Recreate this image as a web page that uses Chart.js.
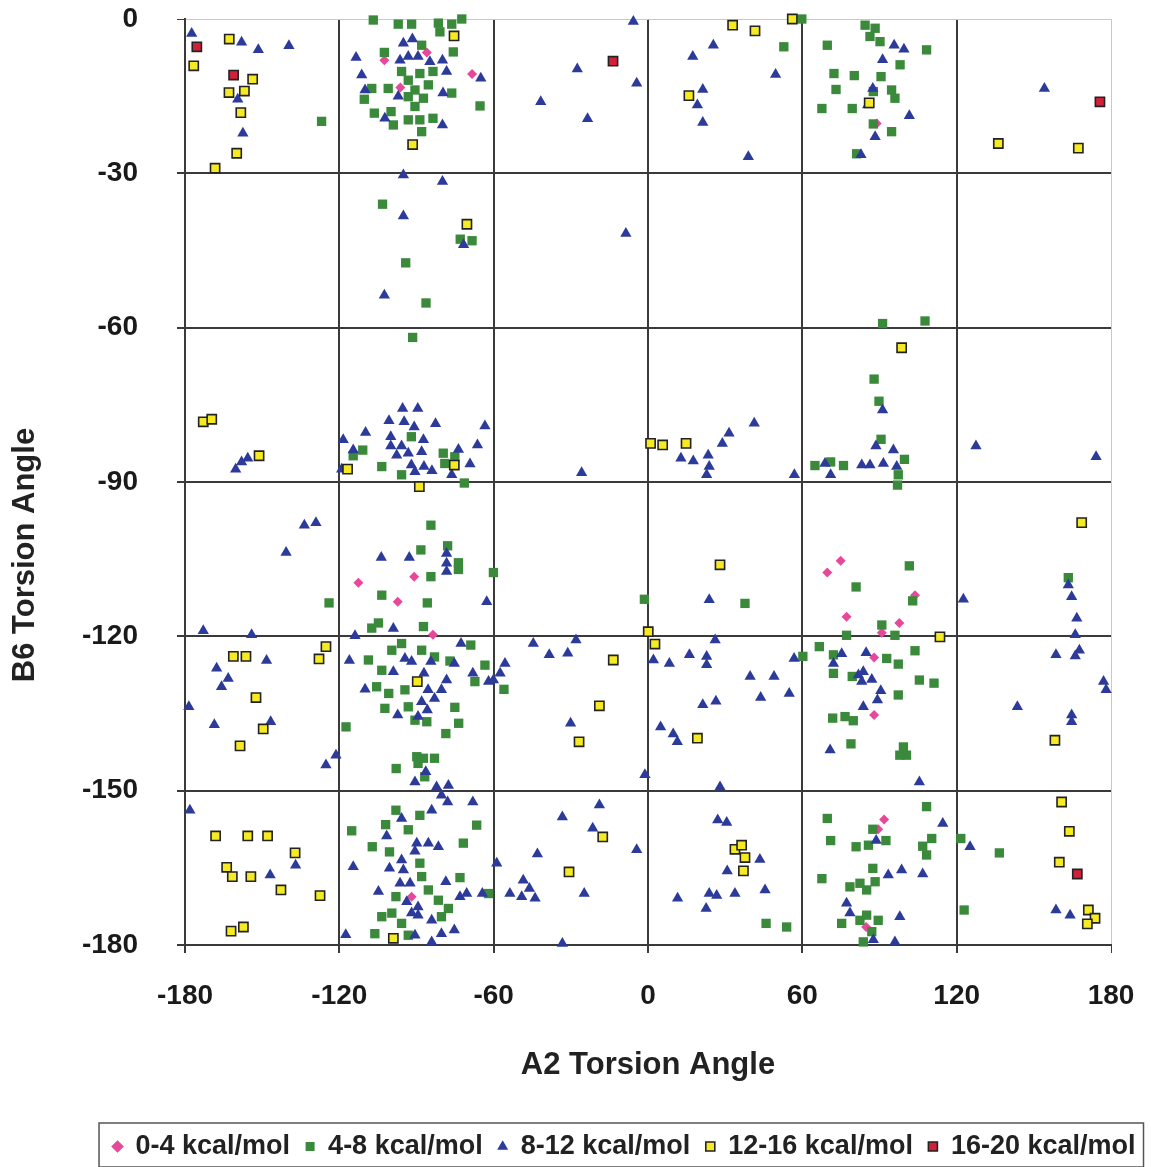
<!DOCTYPE html>
<html>
<head>
<meta charset="utf-8">
<script src="https://cdn.jsdelivr.net/npm/chart.js@4.4.1/dist/chart.umd.min.js"></script>
<style>
  html, body { margin: 0; padding: 0; background: #fff; }
  #wrap { width: 1151px; height: 1167px; }
</style>
</head>
<body>
<div id="wrap"><canvas id="chart"></canvas></div>
<script>
// [A2, B6] torsion angle pairs per energy band
const kcal0to4 = [
  [-68.4,-10.7],[-102.5,-8.0],[-86,-6.5],[-96.3,-13.3],[88.9,-20.3],
  [-112.6,-109.6],[-90.9,-108.4],[-97.3,-113.3],[-83.6,-119.7],[-91.9,-170.6],
  [74.9,-105.3],[69.7,-107.6],[103.8,-112.0],[77.2,-116.2],[97.7,-117.4],[90.9,-119.3],
  [87.9,-124.1],[87.9,-135.3],[91.8,-155.6],[89.5,-157.5],[84.8,-176.5]
];

const kcal4to8 = [
  [-126.9,-19.9],[-106.8,-0.2],[-97.1,-1.0],[-91.9,-1.0],[-81.5,-0.8],[-76.3,-1.0],[-72.4,0],
  [-80.9,-2.5],[-75.7,-6.4],[-102.5,-6.5],[-88,-5.1],[-88.7,-10.6],[-83.6,-10.2],[-93.2,-11.9],
  [-90.6,-13.8],[-85.4,-12.8],[-76.3,-14.4],[-93.2,-15.1],[-87.3,-15.4],[-90.6,-17.0],[-101,-13.5],
  [-107.4,-13.5],[-110.3,-15.6],[-106.4,-18.3],[-99.9,-18.0],[-99,-20.6],[-93.2,-19.6],[-88.7,-19.6],
  [-83.6,-19.3],[-88,-21.9],[-65.3,-16.9],[-95.8,-10.2],[-103.2,-36.0],[-73,-42.8],[-68.4,-43.1],
  [-94.2,-47.4],[-86.3,-55.2],
  [59.8,0],[52.8,-5.4],
  [84.4,-1.2],[88.3,-1.8],[86.3,-3.4],[90.2,-4.4],[69.7,-5.1],[108.3,-6.0],[98,-8.9],[72.3,-10.6],
  [80.2,-11.0],[90.6,-11.2],[73.1,-13.7],[94.7,-13.8],[96,-15.4],[87.6,-14.1],[67.6,-17.4],[79.4,-17.4],
  [87.6,-20.4],[94.7,-21.9],[81.1,-26.2],[91.2,-59.2],[107.7,-58.7],
  [-91.5,-61.9],[-110.9,-83.8],[-114.6,-84.9],[-103.5,-87.0],[-92,-81.2],[-79.6,-84.4],[-79,-86.4],
  [-75.1,-85.1],[-95.8,-88.6],[-71.4,-90.2],[-84.4,-98.4],[-88.3,-103.2],[-77.9,-102.4],[-73.7,-105.7],
  [-73.7,-107.0],[-60.1,-107.6],[-84.4,-108.4],[-124,-113.5],[-103.5,-112.0],[-85.8,-113.5],
  [-107.4,-118.4],[-104.8,-117.4],[-87.3,-118.1],
  [-1.4,-112.8],[37.7,-113.6],
  [87.9,-70.0],[89.8,-74.3],[90.6,-81.7],[64.9,-86.8],[71,-86.1],[76,-86.8],[99.7,-85.6],[97.3,-88.6],
  [97,-90.6],[101.6,-106.3],[80.9,-110.4],[102.9,-113.1],[163.4,-108.6],[90.9,-117.8],[96,-119.8],[77.2,-119.8],
  [-117.4,-137.6],[-105.5,-129.8],[-108.7,-124.6],[-102.3,-134.0],[-99.6,-122.7],[-95.8,-121.4],[-88,-122.7],
  [-83,-124.0],[-103.5,-126.6],[-100.8,-131.1],[-94.5,-130.4],[-90.6,-136.3],[-86,-136.6],[-93.2,-133.7],
  [-75.1,-133.8],[-73.6,-136.9],[-78.6,-138.9],[-67.3,-128.8],[-63.4,-125.6],[-68.9,-121.7],[-77,-124.8],
  [-97.9,-145.7],[-89.9,-143.4],[-87.3,-143.7],[-83,-143.7],[-89.4,-144.7],[-86.8,-147.3],[-98,-153.8],
  [-88.7,-154.8],[-102,-156.6],[-93.2,-157.6],[-115.2,-157.8],[-107.2,-160.9],[-66.6,-156.7],[-71.8,-160.2],
  [-100.5,-161.9],[-88.7,-164.1],[-88,-166.7],[-73.1,-166.9],[-85.4,-169.3],[-81.5,-171.3],[-98,-170.6],
  [-99.6,-173.8],[-103.5,-174.5],[-95.8,-175.8],[-80.3,-174.5],[-77.6,-172.9],[-106.2,-177.8],[-93.2,-178.1],
  [-62,-170.0],
  [-56,-130.3],[45.9,-175.8],[53.9,-176.5],[60.2,-123.9],
  [66.6,-122.0],[72.1,-123.6],[103.8,-122.8],[92.8,-124.3],[97.3,-125.4],[72.1,-127.2],[79.4,-127.8],
  [105.5,-128.5],[111.2,-129.1],[97.3,-131.4],[71.8,-135.9],[76.6,-135.6],[79.8,-136.4],[78.9,-140.9],
  [99.3,-141.5],[97.9,-143.1],[100.5,-143.1],[108.3,-153.1],[69.7,-155.4],[87.4,-157.5],[71,-159.7],
  [80.9,-160.9],[85.7,-160.6],[92.5,-159.7],[110.3,-159.3],[106.8,-160.8],[108.3,-162.5],[121.6,-159.3],
  [136.6,-162.1],[87.4,-165.1],[67.6,-167.1],[78.5,-168.7],[82.4,-168.0],[85,-169.3],[88.3,-167.7],
  [85,-174.2],[89.5,-175.2],[82.4,-175.2],[87,-177.4],[83.7,-179.4],[75.3,-175.8],[122.9,-173.2]
];

const kcal8to12 = [
  [-177.4,-2.8],[-158,-4.5],[-151.5,-6.0],[-139.6,-5.2],[-159.5,-15.6],[-157.5,-22.2],[-113.5,-7.5],
  [-111.3,-10.9],[-110,-13.8],[-95.1,-4.7],[-91.6,-3.9],[-96.4,-8.0],[-89.4,-7.3],[-84.8,-8.3],[-79.9,-8.0],
  [-78.3,-10.2],[-93.2,-7.3],[-97.1,-15.0],[-79.7,-14.4],[-102.3,-19.3],[-79.9,-20.6],[-65,-11.5],
  [-95.1,-30.3],[-79.9,-31.6],[-95.1,-38.3],[-71.7,-43.9],[-102.5,-53.7],
  [-5.7,-0.5],[-27.5,-9.7],[-4.4,-12.5],[-41.7,-16.1],[-23.5,-19.4],[-8.6,-41.7],[25.4,-5.1],[17.4,-7.3],
  [49.6,-10.8],[21.3,-13.7],[19.2,-16.7],[21.3,-20.1],[39,-26.8],
  [95.7,-5.1],[99.5,-5.9],[91.2,-7.9],[87.4,-13.5],[85.4,-16.7],[101.6,-18.8],[88.3,-22.9],[82.8,-26.4],
  [154.1,-13.5],
  [-160.3,-87.5],[-158,-86.1],[-155.6,-85.4],[-118.5,-81.8],[-119.1,-87.5],[-114.6,-83.8],[-109.8,-80.4],
  [-100.7,-78.1],[-95.4,-75.7],[-89.5,-75.7],[-94.8,-78.3],[-90.9,-79.3],[-82.6,-78.7],[-63.4,-79.1],
  [-100,-81.2],[-100,-83.0],[-95.8,-83.0],[-93.2,-84.4],[-87.3,-81.8],[-88,-84.1],[-97.7,-84.8],[-92,-86.7],
  [-87.1,-87.0],[-84,-87.8],[-90.6,-88.0],[-76.3,-88.6],[-73.7,-83.7],[-69.2,-86.5],[-66.3,-82.8],
  [-133.6,-98.4],[-129.1,-97.9],[-140.7,-103.7],[-103.7,-104.7],[-92.8,-104.7],[-78.3,-103.9],
  [-78.3,-105.8],[-78.3,-107.4],[-62.7,-113.3],[-172.9,-118.9],[-154.1,-119.7],[-99,-118.5],[-113.9,-119.9],
  [-25.8,-88.2],[12.8,-85.4],[17.6,-85.9],[23.4,-84.8],[23.8,-87.0],[22.8,-88.6],[28.9,-82.5],[31.5,-80.5],
  [41.3,-78.6],[56.9,-88.6],[23.8,-112.9],
  [91.2,-76.0],[88.6,-83.0],[95.4,-83.8],[83.1,-86.7],[86.3,-86.7],[91.5,-86.4],[96.7,-87.0],[71,-88.6],
  [68.8,-86.4],[127.5,-83.0],[174.2,-85.1],[122.6,-112.8],[163.4,-110.0],[164.7,-112.3],[166.7,-116.5],
  [166.1,-119.7],
  [-167.7,-126.2],[-163.2,-128.2],[-165.8,-129.8],[-148.3,-124.7],[-178.5,-133.7],[-168.6,-137.2],
  [-146.7,-136.6],[-121.3,-143.1],[-125.2,-145.0],[-178.1,-153.8],[-137,-164.5],[-146.9,-166.4],
  [-116.1,-124.7],[-110,-130.3],[-99,-126.9],[-94.5,-124.3],[-91.9,-124.9],[-84.4,-124.9],[-87.1,-127.2],
  [-85.5,-130.4],[-80.3,-130.4],[-83,-132.1],[-88,-132.7],[-85.8,-134.3],[-97.3,-135.3],[-89.4,-135.6],
  [-78.3,-128.5],[-75.3,-125.3],[-72.7,-121.4],[-68.1,-127.2],[-62,-128.8],[-86.4,-146.3],[-90.6,-148.3],
  [-82.2,-149.3],[-77.6,-149.0],[-80.3,-150.9],[-77.9,-152.2],[-68.1,-152.2],[-84.1,-153.8],[-95.8,-155.4],
  [-101.6,-158.8],[-89.9,-160.2],[-85.4,-160.2],[-81.5,-160.9],[-90.6,-161.8],[-114.6,-164.8],
  [-100.5,-165.1],[-95.8,-163.5],[-95.1,-165.4],[-96.4,-168.0],[-92.5,-168.0],[-104.8,-169.6],
  [-78.6,-167.7],[-73.1,-170.6],[-70.5,-170.0],[-64.4,-170.0],[-93.8,-171.6],[-89.4,-172.6],[-91.9,-173.8],
  [-89.4,-174.2],[-84.1,-175.2],[-75.3,-177.1],[-80.3,-177.8],[-90.6,-178.1],[-117.5,-178.0],[-84.1,-179.4],
  [-44.6,-121.4],[-28,-120.7],[-38.4,-123.6],[-31.2,-123.3],[-55.6,-125.3],[-57.5,-127.2],[-60.1,-128.5],
  [-30.1,-136.9],[-1.2,-146.9],[2.1,-124.6],[8.3,-125.3],[16.1,-123.6],[22.8,-123.9],[22.8,-125.5],
  [26.1,-120.7],[39.7,-127.8],[49,-127.8],[43.8,-131.9],[54.9,-131.1],[56.8,-124.3],[21.3,-133.3],
  [26.4,-132.6],[4.9,-137.6],[9.8,-139.0],[11.4,-140.5],[28,-149.3],[-18.9,-152.8],[-33.3,-155.1],
  [-21.5,-157.3],[-4.4,-161.5],[-43,-162.3],[-58.8,-164.1],[-48.5,-167.4],[-46.1,-169.0],[-53.7,-170.0],
  [-49.1,-170.6],[-43.9,-170.9],[-24.8,-170.0],[-33.3,-179.7],[27.1,-155.7],[30.6,-156.2],[43.5,-163.4],
  [30.8,-165.6],[45.5,-169.3],[33.8,-170.0],[23.8,-170.0],[26.7,-170.4],[11.5,-170.9],[22.6,-172.9],
  [75.3,-123.4],[84.8,-123.2],[72.1,-125.3],[81.8,-127.5],[83.7,-126.9],[87,-128.4],[83.1,-128.8],
  [90.5,-130.6],[89.2,-132.4],[83.7,-133.7],[70.8,-142.1],[105.5,-148.3],[167.7,-122.7],[166.1,-123.8],
  [158.6,-123.6],[177.1,-128.8],[178.1,-130.4],[143.6,-133.7],[164.7,-135.3],[164.7,-136.6],[114.6,-156.4],
  [125.2,-160.9],[88.7,-159.7],[93.4,-166.4],[98.6,-165.4],[106.8,-166.2],[77.2,-171.9],[78.5,-173.8],
  [97.9,-174.5],[87.6,-179.0],[96,-179.4],[158.6,-173.2],[164.1,-174.2]
];

const kcal12to16 = [
  [-162.8,-3.9],[-176.6,-9.1],[-153.7,-11.7],[-162.9,-14.3],[-156.9,-14.0],[-158.3,-18.2],[-159.9,-26.1],
  [-168.3,-29.0],[-75.4,-3.3],[-91.5,-24.4],[-70.4,-39.9],
  [32.9,-1.2],[41.6,-2.3],[56.1,0],[15.9,-14.9],
  [86,-16.3],[136.2,-24.2],[167.3,-25.1],
  [-172.9,-78.3],[-169.6,-77.8],[-151.2,-84.9],[-116.8,-87.5],[-75.3,-86.7],[-88.9,-90.9],
  [1.0,-82.5],[5.7,-82.8],[14.8,-82.5],[28,-106.1],[0.1,-119.1],
  [98.6,-63.9],[168.6,-97.9],[113.5,-120.1],
  [-161.2,-123.9],[-156.3,-123.9],[-125.2,-122.0],[-127.9,-124.4],[-152.4,-131.9],[-149.6,-138.0],
  [-158.6,-141.3],[-89.7,-128.8],[-168.1,-158.8],[-155.6,-158.8],[-147.9,-158.8],[-137.2,-162.1],
  [-163.8,-164.9],[-161.6,-166.7],[-154.4,-166.7],[-142.7,-169.3],[-127.5,-170.4],[-162.1,-177.3],
  [-157.3,-176.5],[-99,-178.7],
  [2.7,-121.5],[-13.5,-124.6],[-18.9,-133.5],[-26.8,-140.5],[19.2,-139.8],[-17.6,-159.0],[-30.7,-165.8],
  [33.8,-161.4],[36.4,-160.6],[37.7,-163.0],[37.1,-165.6],
  [158.2,-140.2],[160.8,-152.2],[163.8,-157.9],[159.9,-163.9],[171.2,-173.2],[173.8,-174.8],[170.8,-175.9]
];

const kcal16to20 = [
  [-175.4,-5.4],[-161.1,-10.9],[-13.6,-8.2],[175.7,-16.1],[166.9,-166.2]
];

const seriesLabels = ['0-4 kcal/mol', '4-8 kcal/mol', '8-12 kcal/mol', '12-16 kcal/mol', '16-20 kcal/mol'];
const xTicks = [-180, -120, -60, 0, 60, 120, 180];
const yTicks = [-180, -150, -120, -90, -60, -30, 0];

const FONT = '"Liberation Sans", Arial, sans-serif';
const toPoints = (pairs) => pairs.map(([x, y]) => ({ x, y }));

// frame around the legend, like the Excel one
const legendFrame = {
  id: 'legendFrame',
  afterDraw(chart) {
    const boxes = chart.legend && chart.legend.legendHitBoxes;
    if (!boxes || !boxes.length) return;
    const first = boxes[0];
    const last = boxes[boxes.length - 1];
    const ctx = chart.ctx;
    ctx.save();
    ctx.strokeStyle = '#555';
    ctx.lineWidth = 1.5;
    ctx.strokeRect(first.left - 14, first.top - 10, last.left + last.width + 22 - first.left, first.height + 17);
    ctx.restore();
  }
};

// y title sits lower than centre in the original, so it is drawn here
const yTitle = {
  id: 'yTitle',
  afterDraw(chart) {
    const ctx = chart.ctx;
    ctx.save();
    ctx.translate(25, 555);
    ctx.rotate(-Math.PI / 2);
    ctx.font = 'bold 31px ' + FONT;
    ctx.fillStyle = '#222';
    ctx.textAlign = 'center';
    ctx.textBaseline = 'middle';
    ctx.fillText('B6 Torsion Angle', 0, 0);
    ctx.restore();
  }
};

const makeSet = (label, pairs, style, order) => Object.assign({
  label,
  data: toPoints(pairs),
  order,
  clip: false,
}, style);

const datasets = [
  makeSet(seriesLabels[0], kcal0to4, {
    pointStyle: 'rectRot', pointRadius: 5, backgroundColor: '#e8489a', borderColor: '#e8489a',
    pointBackgroundColor: '#e8489a', pointBorderColor: '#e8489a', borderWidth: 0, pointBorderWidth: 0,
  }, 5),
  makeSet(seriesLabels[1], kcal4to8, {
    pointStyle: 'rect', pointRadius: 6.6, backgroundColor: '#3b8a3c', borderColor: '#3b8a3c',
    pointBackgroundColor: '#3b8a3c', pointBorderColor: '#3b8a3c', borderWidth: 0, pointBorderWidth: 0,
  }, 4),
  makeSet(seriesLabels[2], kcal8to12, {
    pointStyle: 'triangle', pointRadius: 6.5, backgroundColor: '#2c3a9a', borderColor: '#2c3a9a',
    pointBackgroundColor: '#2c3a9a', pointBorderColor: '#2c3a9a', borderWidth: 0, pointBorderWidth: 0,
  }, 3),
  makeSet(seriesLabels[3], kcal12to16, {
    pointStyle: 'rect', pointRadius: 6.5, backgroundColor: '#f6ea22', borderColor: '#222',
    pointBackgroundColor: '#f6ea22', pointBorderColor: '#222', borderWidth: 1.6, pointBorderWidth: 1.6,
  }, 2),
  makeSet(seriesLabels[4], kcal16to20, {
    pointStyle: 'rect', pointRadius: 6.5, backgroundColor: '#d3203a', borderColor: '#222',
    pointBackgroundColor: '#d3203a', pointBorderColor: '#222', borderWidth: 1.6, pointBorderWidth: 1.6,
  }, 1),
];

const PLOT_BOTTOM = 945;
const PAD_BOTTOM = -3;

new Chart(document.getElementById('chart'), {
  type: 'scatter',
  data: { datasets },
  options: {
    responsive: true,
    maintainAspectRatio: false,
    animation: false,
    events: [],
    layout: { padding: { left: 0, right: 0, top: 19, bottom: PAD_BOTTOM } },
    scales: {
      x: {
        type: 'linear',
        min: xTicks[0],
        max: xTicks[xTicks.length - 1],
        afterBuildTicks: (s) => { s.ticks = xTicks.map(v => ({ value: v })); },
        afterFit: (s) => {
          const lh = s.chart.legend ? s.chart.legend.height : 0;
          s.height = s.chart.height - PAD_BOTTOM - lh - PLOT_BOTTOM;
          s.paddingRight = 40;
          s.paddingLeft = 0;
        },
        grid: {
          color: (c) => (c.tick && c.tick.value === 180 ? '#c8c8c8' : '#3a3a3a'),
          lineWidth: (c) => (c.tick && c.tick.value === 180 ? 1 : 2),
          tickColor: '#3a3a3a',
          tickLength: 8,
        },
        border: { color: '#3a3a3a', width: 2 },
        ticks: {
          maxRotation: 0,
          autoSkip: false,
          padding: 26,
          color: '#1a1a1a',
          font: { family: FONT, size: 28, weight: 'bold' },
        },
        title: {
          display: true,
          text: 'A2 Torsion Angle',
          color: '#222',
          font: { family: FONT, size: 31, weight: 'bold' },
          padding: { top: 0, bottom: 33 },
        },
      },
      y: {
        type: 'linear',
        min: yTicks[0],
        max: yTicks[yTicks.length - 1],
        afterBuildTicks: (s) => { s.ticks = yTicks.map(v => ({ value: v })); },
        afterFit: (s) => {
          s.width = 185;
          // tick padding would otherwise push the plot top down
          s.paddingTop = 0;
          s.paddingBottom = 0;
        },
        grid: {
          color: (c) => (c.tick && c.tick.value === 0 ? '#c8c8c8' : '#3a3a3a'),
          lineWidth: (c) => (c.tick && c.tick.value === 0 ? 1 : 2),
          tickColor: '#3a3a3a',
          tickLength: 8,
        },
        border: { color: '#3a3a3a', width: 2 },
        ticks: {
          padding: 39,
          color: '#1a1a1a',
          font: { family: FONT, size: 28, weight: 'bold' },
        },
      },
    },
    plugins: {
      legend: {
        position: 'bottom',
        align: 'end',
        labels: {
          usePointStyle: true,
          boxWidth: 9,
          boxHeight: 9,
          padding: 15.5,
          color: '#222',
          font: { family: FONT, size: 27, weight: 'bold' },
          sort: (a, b) => a.datasetIndex - b.datasetIndex,
        },
      },
      tooltip: { enabled: false },
    },
  },
  plugins: [legendFrame, yTitle],
});
</script>
</body>
</html>
